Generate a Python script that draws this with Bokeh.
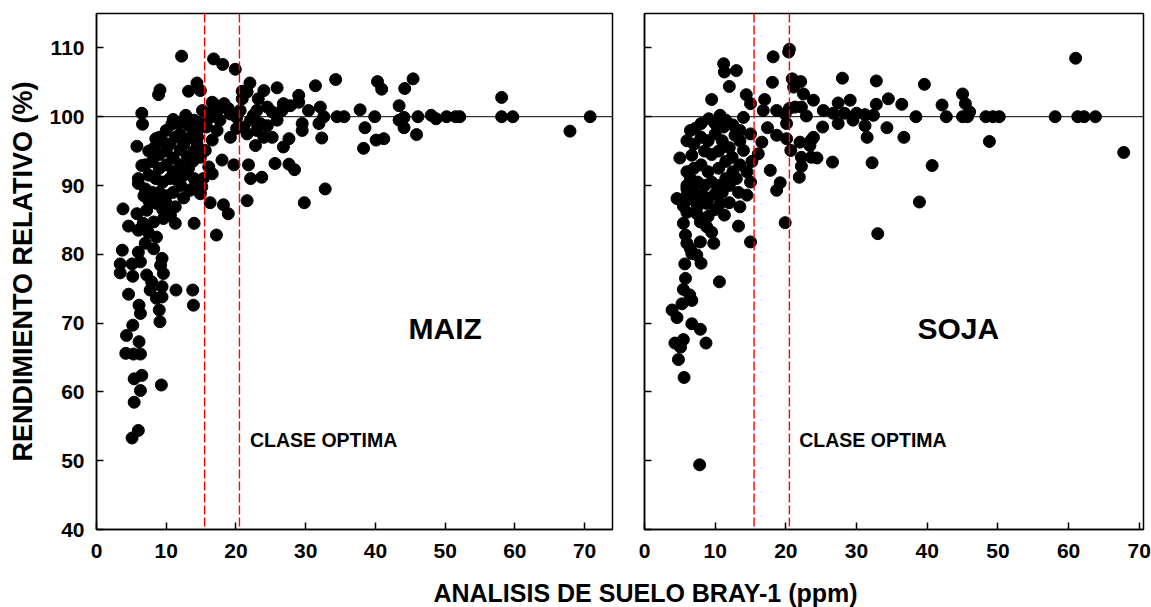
from bokeh.plotting import figure
from bokeh.layouts import row, column
from bokeh.models import Span, Range1d, FixedTicker
from bokeh.embed import file_html
from bokeh.resources import INLINE
from bokeh.core.properties import value

FONT = "Liberation Sans"

# ---------------- data ----------------
maiz_x = [12.2, 16.8, 18.1, 19.9, 22.0, 14.4, 9.1, 8.9, 13.2, 14.9, 20.9, 16.6, 18.3, 15.2, 6.5, 6.6, 11.0, 11.8, 13.4, 5.8,
          9.6, 11.3, 8.2, 6.5, 6.0, 6.0, 18.0, 19.7, 21.8, 22.1, 23.7, 12.1, 13.7, 25.9, 24.0, 23.2, 29.0, 29.0, 31.4, 34.3,
          26.8, 30.4, 32.1, 32.6, 34.5, 35.5, 29.5, 29.5, 31.9, 32.3, 25.2, 27.6, 26.8, 22.8, 25.6, 27.6, 28.4, 32.8, 21.6, 29.8,
          18.2, 16.3, 21.6, 20.9, 23.0, 24.5, 25.2, 22.1, 23.5, 21.1, 23.0, 24.5, 25.9, 26.6, 27.8, 24.0, 21.6, 22.5, 20.1, 20.6,
          18.9, 17.5, 16.8, 16.0, 16.3, 17.7, 19.2, 15.8, 17.3, 19.2, 20.1, 16.6, 15.6, 14.4, 14.9, 16.1, 16.6, 15.3, 15.1, 14.9,
          13.4, 37.8, 39.9, 38.5, 38.3, 40.3, 40.9, 40.1, 41.2, 43.4, 44.2, 45.4, 43.4, 44.1, 44.1, 45.9, 46.1, 48.0, 48.7, 50.2,
          51.5, 52.1, 58.1, 58.1, 59.7, 67.9, 70.8, 18.9, 17.2, 14.0, 11.3, 3.8, 4.6, 3.7, 3.4, 3.4, 5.2, 4.6, 6.1, 6.3,
          5.2, 4.3, 6.1, 4.2, 6.3, 5.3, 6.5, 5.4, 6.3, 9.3, 5.4, 6.0, 5.1, 11.4, 13.8, 13.9, 9.1, 9.0, 8.6, 9.4,
          9.4, 7.7, 7.9, 7.2, 9.6, 9.4, 9.2, 5.1, 6.3, 6.0, 7.0, 8.2, 8.6, 7.4, 6.0, 6.7, 8.2, 9.6, 11.3, 10.6,
          5.8, 10.0, 8.6, 7.2, 9.0, 10.0, 10.5, 12.0, 12.5, 13.5, 14.5, 14.0, 12.8, 8.5, 7.5, 9.0, 10.0, 11.0, 12.0, 13.0,
          14.0, 13.2, 12.0, 11.0, 10.0, 9.0, 8.0, 7.0, 7.5, 8.5, 9.5, 10.5, 11.5, 12.5, 14.0, 13.8, 7.0, 8.0, 9.0, 10.0,
          11.0, 8.5, 7.5, 6.8, 9.5, 12.5, 14.5, 15.0, 13.0, 10.8]
maiz_y = [108.8, 108.4, 107.6, 106.9, 104.9, 104.9, 103.9, 103.2, 103.7, 103.8, 103.7, 102.1, 101.9, 100.9, 100.5, 98.9, 99.6, 99.1, 98.6, 95.7,
          96.3, 97.0, 95.4, 92.9, 91.0, 90.3, 93.7, 93.0, 93.0, 91.0, 91.2, 90.0, 89.5, 104.2, 103.8, 102.6, 103.1, 102.1, 104.5, 105.4,
          101.9, 100.9, 101.4, 100.0, 100.0, 100.0, 99.0, 98.0, 99.0, 96.9, 97.0, 96.8, 95.6, 95.8, 93.2, 93.1, 92.3, 89.5, 87.8, 87.5,
          87.2, 87.5, 103.6, 102.6, 100.9, 101.4, 100.7, 99.5, 99.0, 98.5, 98.0, 98.7, 99.5, 100.9, 101.6, 97.0, 97.5, 100.2, 99.9, 100.9,
          101.2, 101.0, 101.9, 100.5, 99.9, 99.5, 100.4, 98.5, 98.0, 97.0, 98.3, 96.6, 95.1, 96.1, 94.1, 92.7, 91.7, 91.0, 89.8, 88.8,
          89.3, 101.0, 100.0, 98.4, 95.4, 105.1, 104.0, 96.6, 96.8, 101.6, 104.1, 105.5, 99.5, 99.9, 98.4, 97.4, 100.0, 100.2, 99.7, 100.0,
          100.0, 100.0, 102.8, 100.0, 100.0, 97.9, 100.0, 85.9, 82.8, 84.5, 84.5, 86.6, 84.1, 80.6, 78.6, 77.3, 76.8, 74.2, 72.6, 71.4,
          69.7, 68.2, 67.3, 65.6, 65.5, 65.5, 62.4, 61.9, 60.2, 61.0, 58.5, 54.4, 53.3, 74.8, 74.8, 72.6, 70.2, 71.9, 73.6, 73.8,
          75.3, 74.8, 76.0, 77.0, 77.2, 79.4, 78.4, 78.6, 78.9, 80.3, 81.6, 80.8, 82.5, 83.2, 83.5, 84.5, 84.7, 85.2, 86.9, 85.7,
          85.9, 87.4, 87.4, 86.4, 97.0, 98.0, 96.0, 97.5, 96.0, 97.0, 98.0, 99.5, 100.2, 96.8, 95.0, 94.5, 95.0, 94.0, 95.2, 94.3,
          95.0, 92.5, 93.0, 92.0, 93.0, 92.5, 93.5, 93.0, 91.5, 91.0, 90.5, 91.0, 90.8, 91.5, 91.0, 93.5, 89.5, 89.0, 89.0, 88.5,
          89.0, 88.0, 87.8, 88.5, 86.5, 88.2, 97.0, 99.0, 99.0, 98.9]

soja_x = [20.4, 20.5, 18.2, 11.2, 11.3, 13.0, 12.0, 18.1, 20.9, 22.1, 21.1, 28.0, 32.8, 9.5, 14.4, 15.0, 17.0, 22.5, 23.9, 27.4,
          29.1, 32.8, 25.3, 26.7, 28.3, 30.0, 31.2, 32.4, 27.4, 29.5, 31.2, 34.3, 34.5, 25.2, 23.9, 23.4, 22.0, 24.4, 26.6, 31.5,
          32.2, 22.2, 21.9, 17.8, 19.2, 18.7, 20.7, 20.1, 18.7, 17.4, 16.1, 16.6, 20.1, 18.7, 20.5, 22.2, 5.0, 7.2, 6.7, 9.1,
          10.7, 14.0, 13.5, 14.5, 13.3, 4.6, 6.0, 12.8, 11.2, 14.0, 12.4, 16.8, 22.2, 21.3, 22.9, 23.6, 23.6, 19.9,
          36.4, 36.7, 38.4, 39.6, 40.7, 38.9, 42.1, 42.7, 45.0, 45.4, 46.0, 45.0, 45.7, 48.3, 49.3, 50.2, 48.8, 58.1, 61.0, 61.3,
          62.2, 63.8, 67.8, 33.0, 19.9,
          7.8, 5.6, 4.8, 4.3, 5.5, 5.1, 8.7, 7.9, 6.7, 3.9, 4.6, 5.3, 6.7, 5.5, 6.4, 5.8, 10.6, 5.7, 8.0, 6.7,
          6.0, 7.9, 9.8, 15.0, 5.8, 9.5, 8.8, 7.9, 5.5, 13.3, 11.3, 6.0, 7.4, 10.7, 8.8, 7.4, 6.5, 6.0, 8.6,
          6.0, 7.0, 8.0, 9.0, 10.0, 11.0, 12.0, 13.5, 8.5, 9.5, 10.5, 11.5, 10.5, 9.0, 8.0, 7.0, 6.0, 6.5, 7.5, 8.5,
          9.5, 10.5, 11.5, 12.5, 13.5, 6.0, 7.0, 8.0, 9.0, 10.0, 11.0, 12.0, 13.0, 14.5, 6.5, 7.5, 10.0, 12.0, 5.5, 9.0,
          8.0, 10.0, 11.5, 12.5, 13.5, 6.5, 15.0, 15.2, 15.0]
soja_y = [109.4, 109.8, 108.7, 107.7, 106.5, 106.7, 104.4, 105.0, 105.5, 105.1, 104.3, 105.6, 105.2, 102.5, 103.2, 101.9, 102.5, 103.3, 102.4, 102.0,
          102.4, 101.8, 100.9, 100.5, 100.5, 100.5, 100.3, 100.2, 99.0, 99.5, 98.7, 98.4, 102.6, 98.5, 97.0, 95.8, 96.3, 94.0, 93.4, 97.0,
          93.3, 92.8, 91.2, 92.2, 90.4, 89.3, 95.1, 96.8, 97.3, 98.4, 94.6, 96.3, 99.0, 100.9, 101.2, 101.4, 94.0, 98.3, 94.4, 99.7,
          100.2, 99.9, 86.9, 88.6, 89.0, 88.1, 89.5, 97.3, 98.5, 95.1, 94.1, 100.9, 94.1, 101.4, 100.1, 96.6, 94.1, 100.4,
          101.8, 97.0, 100.0, 104.7, 92.9, 87.6, 101.7, 100.0, 103.3, 101.9, 100.7, 100.0, 100.0, 100.0, 100.0, 100.0, 96.4, 100.0, 108.5, 100.0,
          100.0, 100.0, 94.8, 83.0, 84.6,
          49.4, 62.1, 64.7, 67.1, 67.6, 66.5, 67.1, 69.1, 69.9, 71.9, 70.8, 72.8, 73.3, 74.9, 74.1, 76.5, 76.0, 78.6, 78.7, 80.1,
          81.6, 81.8, 81.6, 81.8, 82.8, 83.2, 84.0, 84.7, 84.5, 84.1, 85.7, 86.1, 85.9, 87.4, 87.4, 79.9, 80.8, 88.6, 88.3,
          96.5, 96.0, 97.0, 96.5, 97.5, 96.5, 95.5, 96.5, 95.0, 94.5, 95.0, 93.5, 92.5, 92.0, 93.0, 92.5, 92.0, 91.0, 90.5, 90.0,
          90.5, 90.0, 91.0, 92.0, 93.0, 90.0, 89.0, 88.5, 88.0, 88.8, 89.0, 90.0, 91.0, 92.0, 88.0, 87.0, 86.5, 87.5, 87.0, 85.5,
          99.0, 99.0, 99.5, 98.8, 98.0, 98.0, 97.5, 93.5, 90.5]

x_ticks = [0, 10, 20, 30, 40, 50, 60, 70]
y_ticks = [40, 50, 60, 70, 80, 90, 100, 110]
optimal_class = [15.5, 20.5]
reference_level = 100

TICK_SIZE = "21px"
TITLE_SIZE = "25px"


def make_panel(xs, ys, xmax, frame_w, b_left, b_right, show_ylabels):
    p = figure(frame_width=frame_w, frame_height=516,
               x_range=Range1d(0, xmax), y_range=Range1d(40, 115),
               output_backend="svg", toolbar_location=None,
               min_border_left=b_left, min_border_right=b_right,
               min_border_top=13, min_border_bottom=45)
    p.xgrid.visible = False
    p.ygrid.visible = False
    p.outline_line_color = "black"
    p.outline_line_width = 1.5
    p.background_fill_color = "white"
    p.border_fill_color = "white"
    for ax in (p.xaxis[0], p.yaxis[0]):
        ax.axis_line_width = 1.5
        ax.axis_line_color = "black"
        ax.major_tick_in = 7
        ax.major_tick_out = 0
        ax.minor_tick_in = 0
        ax.minor_tick_out = 0
        ax.major_tick_line_width = 1.5
        ax.major_tick_line_color = "black"
        ax.major_label_text_font = FONT
        ax.major_label_text_font_style = "bold"
        ax.major_label_text_font_size = TICK_SIZE
        ax.major_label_text_color = "black"
    p.xaxis.ticker = FixedTicker(ticks=x_ticks)
    p.yaxis.ticker = FixedTicker(ticks=y_ticks)
    p.xaxis.major_label_standoff = 14
    p.yaxis.major_label_standoff = 12
    if show_ylabels:
        p.yaxis.axis_label = "RENDIMIENTO RELATIVO (%)"
        p.yaxis.axis_label_text_font = FONT
        p.yaxis.axis_label_text_font_style = "bold"
        p.yaxis.axis_label_text_font_size = "27px"
        p.yaxis.axis_label_text_color = "black"
        p.yaxis.axis_label_standoff = 8
    else:
        p.yaxis.major_label_overrides = {t: "" for t in y_ticks}
        p.yaxis.major_label_standoff = 0

    p.add_layout(Span(location=reference_level, dimension="width",
                      line_color="black", line_width=1))
    for loc in optimal_class:
        p.add_layout(Span(location=loc, dimension="height",
                          line_color="#ff0000", line_width=1.4, line_dash="9 3"))

    p.scatter(xs, ys, size=12, color="black", marker="circle")
    return p


p1 = make_panel(maiz_x, maiz_y, 74.0, 516, 96, 16, True)
p1.text(x=[50.0], y=[69.25], text=["MAIZ"], text_font=value(FONT), text_font_style="bold",
        text_font_size="30px", text_align="center", text_baseline="middle", color="black")
p1.text(x=[22.0], y=[53.0], text=["CLASE OPTIMA"], text_font=value(FONT), text_font_style="bold",
        text_font_size="19.5px", text_align="left", text_baseline="middle", color="black")

p2 = make_panel(soja_x, soja_y, 70.6, 499, 16, 8, False)
p2.text(x=[44.4], y=[69.25], text=["SOJA"], text_font=value(FONT), text_font_style="bold",
        text_font_size="30px", text_align="center", text_baseline="middle", color="black")
p2.text(x=[21.9], y=[53.0], text=["CLASE OPTIMA"], text_font=value(FONT), text_font_style="bold",
        text_font_size="19.5px", text_align="left", text_baseline="middle", color="black")

p3 = figure(width=1151, height=33, x_range=Range1d(0, 1151), y_range=Range1d(0, 33),
            output_backend="svg", toolbar_location=None, min_border=0)
p3.axis.visible = False
p3.grid.visible = False
p3.outline_line_color = None
p3.text(x=[645], y=[15], text=["ANALISIS DE SUELO BRAY-1 (ppm)"], text_font=value(FONT),
        text_font_style="bold", text_font_size=TITLE_SIZE, text_align="center",
        text_baseline="middle", color="black")

layout = column(row(p1, p2), p3)
open("out.html", "w").write(file_html(layout, INLINE))
